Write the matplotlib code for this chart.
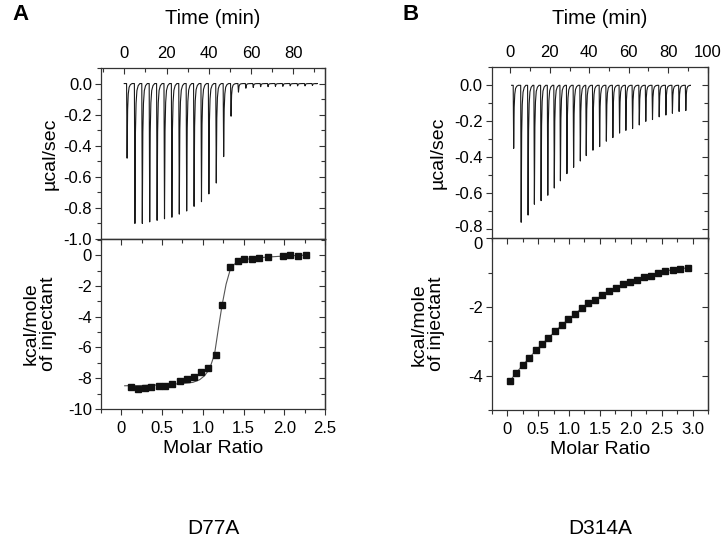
import matplotlib
matplotlib.use("Agg")
from matplotlib import pyplot as plt
from matplotlib import transforms
from matplotlib.ticker import MultipleLocator, FuncFormatter, FixedLocator

plt.rcParams['font.family'] = ['Liberation Sans', 'DejaVu Sans']
plt.rcParams['axes.unicode_minus'] = False

# --- D77A: raw injection peaks (min, ucal/sec) ---
a_inj_time = [1.1, 4.8, 8.3, 11.8, 15.3, 18.8, 22.3, 25.8, 29.3, 32.8, 36.3, 39.8, 43.3,
              46.8, 50.3, 53.8, 57.3, 60.8, 64.3, 67.8, 71.3, 74.8, 78.3, 81.8, 85.3, 88.8]
a_inj_peak = [-0.48, -0.90, -0.90, -0.89, -0.88, -0.87, -0.86, -0.84, -0.82, -0.79, -0.76,
              -0.71, -0.64, -0.47, -0.21, -0.055, -0.03, -0.025, -0.02, -0.02, -0.018,
              -0.018, -0.015, -0.015, -0.015, -0.012]
a_base = (0.0, 90.8)

# --- D77A: integrated heats (kcal/mole of injectant) ---
a_ratio = [0.122, 0.204, 0.286, 0.367, 0.457, 0.539, 0.625, 0.714, 0.804, 0.890, 0.980, 1.062,
           1.156, 1.237, 1.335, 1.429, 1.511, 1.605, 1.695, 1.797, 1.981, 2.075, 2.173, 2.267]
a_heat = [-8.60, -8.70, -8.66, -8.60, -8.51, -8.51, -8.38, -8.21, -8.08, -7.90, -7.62, -7.34,
          -6.47, -3.23, -0.76, -0.41, -0.28, -0.24, -0.20, -0.09, -0.05, 0.0, -0.05, 0.0]
a_fit_ratio = [0.041, 0.265, 0.551, 0.755, 0.878, 0.960, 1.021, 1.083, 1.144, 1.193, 1.237,
               1.286, 1.335, 1.389, 1.450, 1.572, 1.777, 2.022, 2.267]
a_fit_heat = [-8.49, -8.47, -8.42, -8.34, -8.27, -8.10, -7.84, -7.40, -6.43, -4.70, -3.23,
              -1.88, -0.97, -0.58, -0.37, -0.24, -0.13, -0.05, 0.0]

# --- D314A: raw injection peaks ---
b_inj_time = [1.4, 5.2, 8.7, 11.9, 15.3, 18.7, 22.0, 25.1, 28.4, 31.8, 35.2, 38.2, 41.6, 45.0,
              48.4, 51.7, 55.1, 58.3, 61.7, 65.1, 68.4, 71.8, 75.2, 78.6, 81.9, 85.3, 88.7]
b_inj_peak = [-0.35, -0.76, -0.72, -0.66, -0.64, -0.61, -0.57, -0.53, -0.49, -0.455, -0.42,
              -0.39, -0.36, -0.34, -0.31, -0.29, -0.265, -0.25, -0.24, -0.22, -0.20, -0.19,
              -0.175, -0.165, -0.155, -0.145, -0.14]
b_base = (0.6, 91.2)

# --- D314A: integrated heats ---
b_ratio = [0.042, 0.150, 0.257, 0.359, 0.466, 0.568, 0.669, 0.777, 0.884, 0.991, 1.103, 1.205,
           1.312, 1.425, 1.537, 1.650, 1.757, 1.875, 1.988, 2.095, 2.213, 2.331, 2.438, 2.556,
           2.679, 2.797, 2.920]
b_heat = [-4.16, -3.91, -3.68, -3.48, -3.26, -3.08, -2.89, -2.71, -2.52, -2.36, -2.19, -2.04,
          -1.88, -1.78, -1.66, -1.54, -1.45, -1.34, -1.26, -1.21, -1.11, -1.08, -1.01, -0.95,
          -0.91, -0.89, -0.85]

# shape of one spike: offset after injection (min) and fraction of peak depth
spike_dt = [0.0, 0.25, 0.5, 0.8, 1.2, 1.8, 2.6]
spike_frac = [0.0, 1.0, 0.35, 0.14, 0.05, 0.015, 0.0]

W, H = 722, 543
TICK_FS = 12


def thermogram(times, peaks, base):
    xs, ys = [base[0]], [0.0]
    for t, p in zip(times, peaks):
        for dt, f in zip(spike_dt, spike_frac):
            xs.append(t + dt)
            ys.append(p * f)
    xs.append(base[1])
    ys.append(0.0)
    return xs, ys


def box(x0, y0, x1, y1):
    # pixel box -> figure fraction rect
    return [x0 / W, 1 - y1 / H, (x1 - x0) / W, (y1 - y0) / H]


def ticks(ax, length=(4.5, 3.0)):
    ax.tick_params(which='major', length=length[0], width=0.8, color='#333333',
                   labelsize=TICK_FS)
    ax.tick_params(which='minor', length=length[1], width=0.8, color='#333333')
    for s in ax.spines.values():
        s.set_color('#333333')
        s.set_linewidth(0.9)


def right_ticks(ax, major, minor):
    sec = ax.secondary_yaxis('right')
    sec.yaxis.set_major_locator(MultipleLocator(major))
    sec.yaxis.set_minor_locator(MultipleLocator(minor))
    sec.tick_params(which='both', direction='in', labelright=False)
    ticks(sec)


def top_ticks(ax, major, minor):
    sec = ax.secondary_xaxis('top')
    sec.xaxis.set_major_locator(MultipleLocator(major))
    sec.xaxis.set_minor_locator(MultipleLocator(minor))
    sec.tick_params(which='both', direction='in', labeltop=False)
    ticks(sec)


def nudge(label, dy_px):
    label.set_transform(label.get_transform() +
                        transforms.ScaledTranslation(0, dy_px / 100, fig.dpi_scale_trans))


fmt1 = FuncFormatter(lambda v, p: '{:.1f}'.format(v))
fmt0 = FuncFormatter(lambda v, p: '{:.0f}'.format(v))
fmt_ratio = FuncFormatter(lambda v, p: '0' if abs(v) < 1e-9 else '{:.1f}'.format(v))

fig = plt.figure(figsize=(W / 100, H / 100), dpi=100)

panels = [
    dict(top=box(101, 68, 325, 239), bot=box(101, 239, 325, 409),
         tlim=(-11, 95), ylim_top=(-1.0, 0.1), ylim_bot=(-10, 1.05), xlim_bot=(-0.25, 2.5),
         ytop_ticks=[-1.0, -0.8, -0.6, -0.4, -0.2, 0.0],
         ybot_ticks=[-10, -8, -6, -4, -2, 0],
         raw=(a_inj_time, a_inj_peak, a_base), pts=(a_ratio, a_heat),
         fit=(a_fit_ratio, a_fit_heat), letter='A', name='D77A', lx=-0.19, kx=-0.195,
         letter_x=12, nudge=(0, 0)),
    dict(top=box(491.7, 67.3, 708, 238.5), bot=box(491.7, 238.5, 708, 410),
         tlim=(-9.5, 100.2), ylim_top=(-0.85, 0.1), ylim_bot=(-5, 0), xlim_bot=(-0.25, 3.25),
         ytop_ticks=[-0.8, -0.6, -0.4, -0.2, 0.0],
         ybot_ticks=[-4, -2, 0],
         raw=(b_inj_time, b_inj_peak, b_base), pts=(b_ratio, b_heat),
         fit=(b_ratio, b_heat), letter='B', name='D314A', lx=-0.21, kx=-0.215,
         letter_x=402, nudge=(3, -5)),
]

for p in panels:
    # raw thermogram
    ax = fig.add_axes(p['top'])
    xs, ys = thermogram(*p['raw'])
    ax.plot(xs, ys, color='#1a1a1a', lw=0.8)
    ax.set_xlim(*p['tlim'])
    ax.set_ylim(*p['ylim_top'])
    ax.xaxis.set_major_locator(MultipleLocator(20))
    ax.xaxis.set_minor_locator(MultipleLocator(10))
    ax.xaxis.set_major_formatter(fmt0)
    ax.yaxis.set_major_locator(FixedLocator(p['ytop_ticks']))
    ax.yaxis.set_minor_locator(MultipleLocator(0.1))
    ax.yaxis.set_major_formatter(fmt1)
    ax.tick_params(axis='x', which='both', direction='in', top=True, bottom=False,
                   labeltop=True, labelbottom=False, pad=5)
    ax.tick_params(axis='y', which='both', direction='out', right=False, pad=2)
    ticks(ax)
    right_ticks(ax, 0.2, 0.1)
    ax.set_ylabel('\u00b5cal/sec', fontsize=14)
    ax.yaxis.set_label_coords(p['lx'], 0.5)
    cx = (p['top'][0] + p['top'][2] / 2)
    fig.text(cx, 1 - 19 / H, 'Time (min)', fontsize=14.5, ha='center', va='center')

    # binding isotherm
    ax2 = fig.add_axes(p['bot'])
    ax2.plot(p['fit'][0], p['fit'][1], color='#555555', lw=0.8, zorder=2)
    ax2.plot(p['pts'][0], p['pts'][1], 's', color='#111111', ms=4.5, zorder=3)
    ax2.set_xlim(*p['xlim_bot'])
    ax2.set_ylim(*p['ylim_bot'])
    ax2.xaxis.set_major_locator(MultipleLocator(0.5))
    ax2.xaxis.set_minor_locator(MultipleLocator(0.25))
    ax2.xaxis.set_major_formatter(fmt_ratio)
    ax2.yaxis.set_major_locator(FixedLocator(p['ybot_ticks']))
    ax2.yaxis.set_minor_locator(MultipleLocator(1))
    ax2.yaxis.set_major_formatter(fmt0)
    ax2.tick_params(which='both', direction='out', top=False, right=False)
    ax2.tick_params(axis='x', pad=4)
    ax2.tick_params(axis='y', pad=2)
    ticks(ax2)
    right_ticks(ax2, 2, 1)
    top_ticks(ax2, 0.5, 0.25)
    ax2.set_xlabel('Molar Ratio', fontsize=14, labelpad=3)
    ax2.set_ylabel('kcal/mole\nof injectant', fontsize=14, linespacing=1.05)
    ax2.yaxis.set_label_coords(p['kx'], 0.5)

    # labels at the junction of the two panels sit a little apart, as in the figure
    up, down = p['nudge']
    if up:
        nudge(ax.yaxis.get_major_ticks()[0].label1, up)
    if down:
        nudge(ax2.yaxis.get_major_ticks()[-1].label1, down)

    fig.text(cx, 1 - 528 / H, p['name'], fontsize=15, ha='center', va='center')
    fig.text(p['letter_x'] / W, 1 - 15 / H, p['letter'],
             fontsize=16, fontweight='bold', ha='left', va='center')

fig.savefig('out.png', dpi=100)
